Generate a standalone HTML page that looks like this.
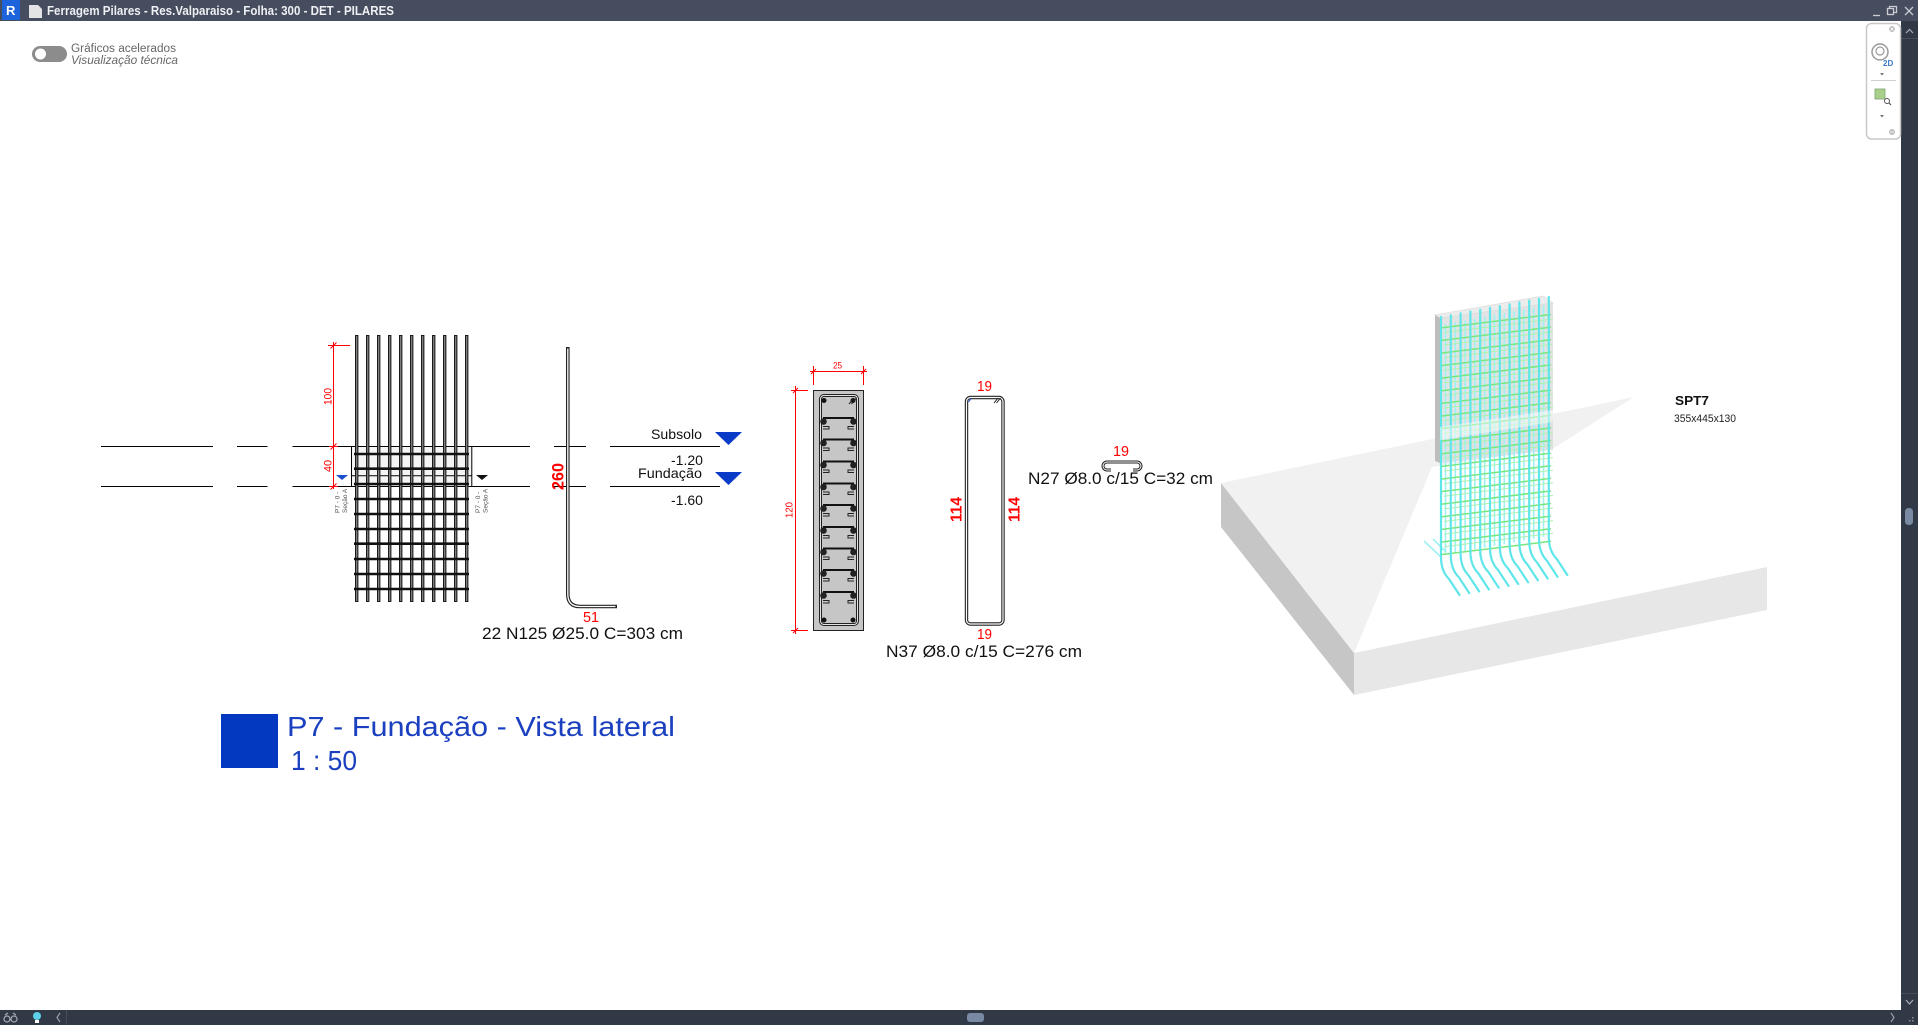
<!DOCTYPE html>
<html><head><meta charset="utf-8">
<style>
html,body{margin:0;padding:0;background:#fff;width:1918px;height:1025px;overflow:hidden}
svg{display:block}
text{font-family:"Liberation Sans",Arial,sans-serif}
</style></head><body>
<svg width="1918" height="1025" viewBox="0 0 1918 1025" xmlns="http://www.w3.org/2000/svg">
<rect width="1918" height="1025" fill="#fff"/>

<!-- ===== Title bar ===== -->
<rect x="0" y="0" width="1918" height="21" fill="#464d5e"/>
<rect x="2" y="0" width="18" height="20" fill="#1d63dc"/>
<text x="6" y="15" font-size="13" font-weight="bold" fill="#fff">R</text>
<path d="M29,5 H38 L42,9 V18 H29 Z" fill="#e4e4e4"/>
<text x="47" y="15" font-size="12.5" font-weight="bold" fill="#eef0f4" textLength="347" lengthAdjust="spacingAndGlyphs">Ferragem Pilares - Res.Valparaiso - Folha: 300 - DET - PILARES</text>
<g stroke="#c9ccd3" stroke-width="1.3" fill="none">
  <path d="M1873,15.5 H1880"/>
  <rect x="1887.5" y="8.5" width="6" height="6"/>
  <path d="M1889.5,8.5 V6.5 H1896.5 V12.5 H1893.5"/>
  <path d="M1905,7 L1913,15 M1913,7 L1905,15"/>
</g>

<!-- ===== Right scrollbar ===== -->
<rect x="1901" y="21" width="17" height="989" fill="#323946"/>
<polyline points="1906,33 1909.5,29.5 1913,33" stroke="#aab0bb" stroke-width="1.2" fill="none"/>
<line x1="1901" y1="38.5" x2="1918" y2="38.5" stroke="#454d5c"/>
<rect x="1905" y="508" width="8" height="17" rx="3.5" fill="#7a8aa3"/>
<line x1="1901" y1="993.5" x2="1918" y2="993.5" stroke="#454d5c"/>
<polyline points="1906,1000 1909.5,1004 1913,1000" stroke="#aab0bb" stroke-width="1.2" fill="none"/>

<!-- ===== Bottom bar ===== -->
<rect x="0" y="1010" width="1918" height="15" fill="#323946"/>
<g stroke="#a9adb5" stroke-width="1.2" fill="none">
  <circle cx="7" cy="1019" r="3"/><circle cx="14" cy="1019" r="3"/>
  <path d="M5,1015 L8,1013 M16,1015 L13,1013"/>
</g>
<circle cx="37" cy="1016" r="4" fill="#5bd0e8"/>
<rect x="35" y="1020" width="4" height="3" fill="#fff"/>
<polyline points="60,1013 57,1017.5 60,1022" stroke="#9aa0aa" stroke-width="1.2" fill="none"/>
<line x1="66.5" y1="1010" x2="66.5" y2="1025" stroke="#454d5c"/>
<rect x="967" y="1013" width="17" height="9" rx="3" fill="#7a8aa3"/>
<polyline points="1891,1013 1894,1017.5 1891,1022" stroke="#9aa0aa" stroke-width="1.2" fill="none"/>
<g fill="#8a909a"><rect x="1909" y="1020" width="1.5" height="1.5"/><rect x="1912" y="1020" width="1.5" height="1.5"/><rect x="1912" y="1017" width="1.5" height="1.5"/></g>

<!-- ===== Nav panel ===== -->
<rect x="1866.5" y="23.5" width="34" height="115.5" rx="5" fill="#fff" stroke="#c8c8c8" stroke-width="1.5"/>
<circle cx="1892" cy="29" r="3" fill="#bdbdbd"/>
<path d="M1890.5,27.5 L1893.5,30.5 M1893.5,27.5 L1890.5,30.5" stroke="#fff" stroke-width="0.8"/>
<circle cx="1880" cy="52" r="8" fill="none" stroke="#9a9a9a" stroke-width="1.5"/>
<circle cx="1880" cy="51" r="4" fill="none" stroke="#9a9a9a" stroke-width="1.2"/>
<text x="1883" y="66" font-size="8" font-weight="bold" fill="#3b78c8">2D</text>
<polygon points="1880,73 1884,73 1882,75.5" fill="#777"/>
<line x1="1871" y1="80.5" x2="1896" y2="80.5" stroke="#cfcfcf"/>
<rect x="1875" y="89" width="10" height="10" fill="#a8d08a" stroke="#7fa070" stroke-width="0.8"/>
<circle cx="1887" cy="101" r="2.5" fill="#fff" stroke="#555" stroke-width="1"/>
<line x1="1888.8" y1="102.8" x2="1891" y2="105" stroke="#555" stroke-width="1.2"/>
<polygon points="1880,115 1884,115 1882,117.5" fill="#777"/>
<circle cx="1892" cy="132" r="3" fill="#bdbdbd"/>
<line x1="1890" y1="132" x2="1894" y2="132" stroke="#fff" stroke-width="0.8"/>

<!-- ===== Toggle ===== -->
<rect x="32" y="46" width="35" height="16" rx="8" fill="#8c8c8c"/>
<circle cx="40.5" cy="54" r="5.5" fill="#fff"/>
<text x="71" y="52" font-size="11.5" fill="#666" textLength="105" lengthAdjust="spacingAndGlyphs">Gráficos acelerados</text>
<text x="71" y="64" font-size="11.5" font-style="italic" fill="#666" textLength="107" lengthAdjust="spacingAndGlyphs">Visualização técnica</text>

<!-- ===== Level lines ===== -->
<path d="M101,446.5 H213 M237,446.5 H267.5 M292.5,446.5 H351.5 M471.8,446.5 H530 M554,446.5 H586 M610,446.5 H720 M101,486.5 H213 M237,486.5 H267.5 M292.5,486.5 H351.5 M471.8,486.5 H530 M554,486.5 H586 M610,486.5 H720" stroke="#000" stroke-width="1" fill="none"/>

<!-- ===== Elevation (bars) ===== -->
<rect x="351.5" y="446.5" width="120.3" height="40" fill="#f4f4f4" stroke="#000" stroke-width="1"/>
<line x1="351.5" y1="475.7" x2="471.8" y2="475.7" stroke="#000" stroke-width="1"/>
<path d="M356.7,335V602 M367.7,335V602 M378.7,335V602 M389.7,335V602 M400.7,335V602 M411.7,335V602 M422.7,335V602 M433.7,335V602 M444.7,335V602 M455.7,335V602 M466.7,335V602" stroke="#1a1a1a" stroke-width="3.4" fill="none"/>
<path d="M356.7,336V601 M367.7,336V601 M378.7,336V601 M389.7,336V601 M400.7,336V601 M411.7,336V601 M422.7,336V601 M433.7,336V601 M444.7,336V601 M455.7,336V601 M466.7,336V601" stroke="#8a8a8a" stroke-width="1.2" fill="none"/>
<path d="M354,454H469 M354,468.7H469 M354,484H469 M354,499H469 M354,514H469 M354,529H469 M354,543.7H469 M354,559H469 M354,574H469 M354,589H469" stroke="#111" stroke-width="2.6" fill="none"/>

<!-- red dimension 100/40 -->
<g stroke="#f00" stroke-width="1" fill="none">
  <path d="M333.5,342V489 M328,345.5H350"/>
  <path d="M330.5,348.5 L336.5,342.5 M330.5,449.5 L336.5,443.5 M330.5,489.5 L336.5,483.5 M329,446.5H338 M329,486.5H338"/>
</g>
<text transform="translate(331.5,396.5) rotate(-90)" text-anchor="middle" font-size="11" fill="#f00" textLength="17" lengthAdjust="spacingAndGlyphs">100</text>
<text transform="translate(331.5,466) rotate(-90)" text-anchor="middle" font-size="11" fill="#f00" textLength="12" lengthAdjust="spacingAndGlyphs">40</text>

<!-- section markers -->
<polygon points="336,475 348,475 342,480" fill="#1a4fd0"/>
<polygon points="476,475 488,475 482,480" fill="#111"/>
<text transform="translate(339.5,513) rotate(-90)" font-size="6.5" fill="#555">P7 - 0 -</text>
<text transform="translate(347,513) rotate(-90)" font-size="6.5" fill="#555">Seção A</text>
<text transform="translate(480,513) rotate(-90)" font-size="6.5" fill="#555">P7 - 0 -</text>
<text transform="translate(487.5,513) rotate(-90)" font-size="6.5" fill="#555">Seção A</text>

<!-- bent bar N125 -->
<path d="M567.8,347 V594 Q567.8,606.5 580,606.5 H617" stroke="#222" stroke-width="3.6" fill="none"/>
<path d="M567.8,348.5 V594 Q567.8,606.5 580,606.5 H615.5" stroke="#fff" stroke-width="1.3" fill="none"/>
<text transform="translate(563.6,476.5) rotate(-90)" text-anchor="middle" font-size="17" font-weight="bold" fill="#f00" textLength="27" lengthAdjust="spacingAndGlyphs">260</text>
<text x="583" y="622" font-size="15" fill="#f00" textLength="16" lengthAdjust="spacingAndGlyphs">51</text>
<text x="482" y="639" font-size="17" fill="#111" textLength="201" lengthAdjust="spacingAndGlyphs">22 N125 Ø25.0 C=303 cm</text>

<!-- level labels -->
<text x="651" y="439" font-size="14" fill="#111" textLength="51" lengthAdjust="spacingAndGlyphs">Subsolo</text>
<polygon points="715,432 742,432 728.5,445" fill="#0a3ac8"/>
<text x="671" y="465" font-size="14" fill="#111" textLength="32" lengthAdjust="spacingAndGlyphs">-1.20</text>
<text x="638" y="478" font-size="14" fill="#111" textLength="64" lengthAdjust="spacingAndGlyphs">Fundação</text>
<polygon points="715,472 742,472 728.5,485" fill="#0a3ac8"/>
<text x="671" y="505" font-size="14" fill="#111" textLength="32" lengthAdjust="spacingAndGlyphs">-1.60</text>

<!-- ===== Section ===== -->
<g stroke="#f00" stroke-width="1" fill="none">
  <path d="M810,371.5 H867 M813.5,366 V385 M863.5,366 V385 M811,374 L816,369 M861,374 L866,369"/>
  <path d="M795.5,386 V634 M791,390.5 H808 M791,630.5 H808 M793,393 L798,388 M793,633 L798,628"/>
  <path d="M800,390.5 H807"/>
</g>
<text x="833" y="368.3" font-size="9.3" fill="#f00" textLength="9" lengthAdjust="spacingAndGlyphs">25</text>
<text transform="translate(792.6,510) rotate(-90)" text-anchor="middle" font-size="10" fill="#f00" textLength="16" lengthAdjust="spacingAndGlyphs">120</text>
<rect x="813.5" y="390.5" width="50" height="240" fill="#c6c6c6" stroke="#222" stroke-width="1"/>
<rect x="820.5" y="395.5" width="37" height="229" rx="3.5" fill="none" stroke="#222" stroke-width="3"/>
<rect x="820.5" y="395.5" width="37" height="229" rx="3.5" fill="none" stroke="#e2e2e2" stroke-width="1"/>
<g fill="#111">
  <circle cx="824" cy="400.5" r="2.5"/><circle cx="853" cy="400.5" r="2.5"/>
  <circle cx="824" cy="620" r="2.5"/><circle cx="853" cy="620" r="2.5"/>
</g>
<path d="M849,404 L854,398 M851.5,404 L856.5,398" stroke="#222" stroke-width="1"/>
<g stroke="#111" stroke-width="2" fill="none">
  <path d="M823,418H854 M823,439.5H854 M823,461.5H854 M823,483.5H854 M823,505H854 M823,527H854 M823,548.5H854 M823,570H854 M823,592H854"/>
</g>
<g fill="#222" stroke="#222" stroke-width="1">
  <circle cx="823.5" cy="421.5" r="2.8"/><circle cx="853.5" cy="421.5" r="2.8"/>
  <circle cx="823.5" cy="443" r="2.8"/><circle cx="853.5" cy="443" r="2.8"/>
  <circle cx="823.5" cy="465" r="2.8"/><circle cx="853.5" cy="465" r="2.8"/>
  <circle cx="823.5" cy="487" r="2.8"/><circle cx="853.5" cy="487" r="2.8"/>
  <circle cx="823.5" cy="508.5" r="2.8"/><circle cx="853.5" cy="508.5" r="2.8"/>
  <circle cx="823.5" cy="530.5" r="2.8"/><circle cx="853.5" cy="530.5" r="2.8"/>
  <circle cx="823.5" cy="552" r="2.8"/><circle cx="853.5" cy="552" r="2.8"/>
  <circle cx="823.5" cy="573.5" r="2.8"/><circle cx="853.5" cy="573.5" r="2.8"/>
  <circle cx="823.5" cy="595.5" r="2.8"/><circle cx="853.5" cy="595.5" r="2.8"/>
</g>
<g stroke="#222" stroke-width="1" fill="none">
  <path d="M823,426.5H829V429H823 M854,426.5H848V429H854"/>
  <path d="M823,448H829V450.5H823 M854,448H848V450.5H854"/>
  <path d="M823,470H829V472.5H823 M854,470H848V472.5H854"/>
  <path d="M823,492H829V494.5H823 M854,492H848V494.5H854"/>
  <path d="M823,513.5H829V516H823 M854,513.5H848V516H854"/>
  <path d="M823,535.5H829V538H823 M854,535.5H848V538H854"/>
  <path d="M823,557H829V559.5H823 M854,557H848V559.5H854"/>
  <path d="M823,578.5H829V581H823 M854,578.5H848V581H854"/>
  <path d="M823,600.5H829V603H823 M854,600.5H848V603H854"/>
</g>

<!-- ===== N37 stirrup ===== -->
<rect x="966.5" y="397.5" width="36.5" height="226.5" rx="4" fill="none" stroke="#222" stroke-width="3.4"/>
<rect x="966.5" y="397.5" width="36.5" height="226.5" rx="4" fill="none" stroke="#fff" stroke-width="1.2"/>
<path d="M968.5,402 L971.5,398" stroke="#2050d0" stroke-width="1"/>
<path d="M994,403 L998,398 M996.5,403 L1000.5,398" stroke="#222" stroke-width="1"/>
<text x="977" y="391" font-size="15" fill="#f00" textLength="15" lengthAdjust="spacingAndGlyphs">19</text>
<text x="977" y="639" font-size="15" fill="#f00" textLength="15" lengthAdjust="spacingAndGlyphs">19</text>
<text transform="translate(961.7,509.5) rotate(-90)" text-anchor="middle" font-size="16" font-weight="bold" fill="#f00" textLength="25" lengthAdjust="spacingAndGlyphs">114</text>
<text transform="translate(1019.7,509.5) rotate(-90)" text-anchor="middle" font-size="16" font-weight="bold" fill="#f00" textLength="25" lengthAdjust="spacingAndGlyphs">114</text>
<text x="886" y="657" font-size="17" fill="#111" textLength="196" lengthAdjust="spacingAndGlyphs">N37 Ø8.0 c/15 C=276 cm</text>

<!-- ===== N27 hook ===== -->
<path d="M1111,470 H1107 A4,4 0 0 1 1107,462 H1137 A4,4 0 0 1 1137,470 H1133" fill="none" stroke="#222" stroke-width="3"/>
<path d="M1111,470 H1107 A4,4 0 0 1 1107,462 H1137 A4,4 0 0 1 1137,470 H1133" fill="none" stroke="#fff" stroke-width="1"/>
<text x="1113" y="456" font-size="15" fill="#f00" textLength="16" lengthAdjust="spacingAndGlyphs">19</text>
<text x="1028" y="484" font-size="17" fill="#111" textLength="185" lengthAdjust="spacingAndGlyphs">N27 Ø8.0 c/15 C=32 cm</text>

<!-- ===== Title ===== -->
<rect x="221" y="714" width="57" height="54" fill="#0338c0"/>
<text x="287" y="736" font-size="28" fill="#1a40c0" textLength="388" lengthAdjust="spacingAndGlyphs">P7 - Fundação - Vista lateral</text>
<text x="291" y="770" font-size="28" fill="#1a40c0" textLength="66" lengthAdjust="spacingAndGlyphs">1 : 50</text>

<!-- ===== 3D view ===== -->
<polygon points="1221,483 1354,653 1354,695 1221,527" fill="#c6c6c6"/>
<polygon points="1354,653 1767,567 1767,610 1354,695" fill="#e7e7e7"/>
<polygon points="1221,483 1634,397 1554,448 1432,467 1354,653" fill="#f1f1f1"/>

<!-- column box -->
<polygon points="1435,315 1543,296 1553,303 1440,318" fill="#ececec" stroke="#dedede" stroke-width="0.8"/>
<polygon points="1435,315 1440,318 1440,463 1435,461" fill="#bdbdbd"/>
<polygon points="1440,318 1553,303 1553,450 1440,463" fill="#dadada" fill-opacity="0.75"/>

<!-- back-row cyan bars -->
<g stroke="#9ef2f2" stroke-width="1.6" fill="none">
  <path d="M1445.5,324V555 M1455.3,322.2V553.2 M1465.1,320.4V551.4 M1474.9,318.5V549.5 M1484.7,316.7V547.7 M1494.5,314.9V545.9 M1504.3,313.1V544.1 M1514.1,311.3V542.3 M1523.9,309.4V540.4 M1533.7,307.6V538.6 M1543.5,305.8V536.8"/>
  <path d="M1441,557 L1424,541 M1446,552 L1433,539"/>
</g>

<!-- green ties (back set) -->
<g stroke="#b0f2a8" stroke-width="1" fill="none">
  <path d="M1444,332.5L1553,319 M1444,345.1L1553,331.6 M1444,357.7L1553,344.2 M1444,370.3L1553,356.8 M1444,382.9L1553,369.4 M1444,395.5L1553,382 M1444,408.1L1553,394.6 M1444,420.7L1553,407.2 M1444,433.3L1553,419.8 M1444,445.9L1553,432.4 M1444,458.5L1553,445 M1444,471.1L1553,457.6 M1444,483.7L1553,470.2 M1444,496.3L1553,482.8 M1444,508.9L1553,495.4 M1444,521.5L1553,508 M1444,534.1L1553,520.6 M1444,546.7L1553,533.2"/>
</g>
<!-- green ties (front set) -->
<g stroke="#78e878" stroke-width="1.5" fill="none">
  <path d="M1440,328L1551,314.5 M1440,340.6L1551,327.1 M1440,353.2L1551,339.7 M1440,365.8L1551,352.3 M1440,378.4L1551,364.9 M1440,391L1551,377.5 M1440,403.6L1551,390.1 M1440,416.2L1551,402.7 M1440,428.8L1551,415.3 M1440,441.4L1551,427.9 M1440,454L1551,440.5 M1440,466.6L1551,453.1 M1440,479.2L1551,465.7 M1440,491.8L1551,478.3 M1440,504.4L1551,490.9 M1440,517L1551,503.5 M1440,529.6L1551,516.1 M1440,542.2L1551,528.7 M1440,554.8L1551,541.3"/>
</g>

<!-- front-row cyan bars with bends -->
<g stroke="#5fe6ea" stroke-width="2.2" fill="none" stroke-linecap="round">
  <path d="M1441,317 V557 Q1441,571 1449,579 L1459.5,595"/>
  <path d="M1450.8,315.2 V555.2 Q1450.8,569.2 1458.8,577.2 L1469.3,593.2"/>
  <path d="M1460.6,313.4 V553.4 Q1460.6,567.4 1468.6,575.4 L1479.1,591.4"/>
  <path d="M1470.4,311.5 V551.5 Q1470.4,565.5 1478.4,573.5 L1488.9,589.5"/>
  <path d="M1480.2,309.7 V549.7 Q1480.2,563.7 1488.2,571.7 L1498.7,587.7"/>
  <path d="M1490,307.9 V547.9 Q1490,561.9 1498,569.9 L1508.5,585.9"/>
  <path d="M1499.8,306.1 V546.1 Q1499.8,560.1 1507.8,568.1 L1518.3,584.1"/>
  <path d="M1509.6,304.3 V544.3 Q1509.6,558.3 1517.6,566.3 L1528.1,582.3"/>
  <path d="M1519.4,302.4 V542.4 Q1519.4,556.4 1527.4,564.4 L1537.9,580.4"/>
  <path d="M1529.2,300.6 V540.6 Q1529.2,554.6 1537.2,562.6 L1547.7,578.6"/>
  <path d="M1539,298.8 V538.8 Q1539,552.8 1547,560.8 L1557.5,576.8"/>
  <path d="M1548.8,297 V537 Q1548.8,551 1556.8,559 L1567.3,575"/>
</g>

<!-- whitish band across column -->
<polygon points="1440,427 1553,410 1553,422 1440,440" fill="#fff" fill-opacity="0.45"/>

<text x="1675" y="405" font-size="13" font-weight="bold" fill="#111" textLength="34" lengthAdjust="spacingAndGlyphs">SPT7</text>
<text x="1674" y="422" font-size="11" fill="#222" textLength="62" lengthAdjust="spacingAndGlyphs">355x445x130</text>

</svg>
</body></html>
